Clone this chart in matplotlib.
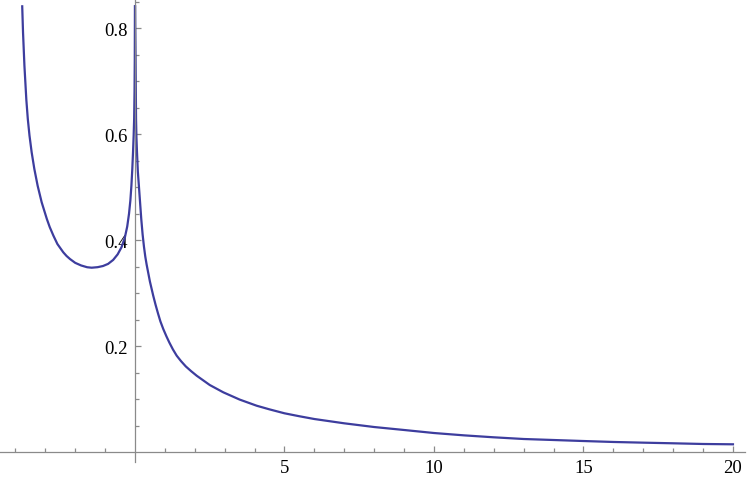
import matplotlib
matplotlib.use("Agg")
import matplotlib.pyplot as plt
from matplotlib.ticker import FixedLocator

# values (left part, x < 0)
x_left = [-3.772, -3.745, -3.698, -3.634, -3.585, -3.528, -3.456, -3.366, -3.256,
          -3.121, -2.948, -2.852, -2.728, -2.595, -2.399, -2.29, -2.174, -2.0,
          -1.8, -1.6, -1.45, -1.25, -1.07, -0.90, -0.73, -0.58, -0.45, -0.34,
          -0.26, -0.20, -0.155, -0.12, -0.09, -0.066, -0.045, -0.028, -0.015,
          -0.007, -0.002]
y_left = [0.8415, 0.7925, 0.7294, 0.6651, 0.6289, 0.5974, 0.5660, 0.5345, 0.5030,
          0.4717, 0.4402, 0.4250, 0.4087, 0.3930, 0.3774, 0.3705, 0.3647, 0.3575,
          0.3525, 0.3492, 0.3483, 0.3493, 0.3515, 0.3555, 0.3630, 0.3735, 0.3870,
          0.4050, 0.4260, 0.4500, 0.4750, 0.5030, 0.5345, 0.566, 0.597, 0.629,
          0.680, 0.742, 0.8415]

# right part, x > 0
x_right = [0.004, 0.012, 0.02, 0.035, 0.048, 0.067, 0.095, 0.13, 0.21, 0.255,
           0.30, 0.345, 0.39, 0.50, 0.61, 0.69, 0.77, 0.85, 0.946, 1.05, 1.15,
           1.27, 1.395, 1.54, 1.70, 1.88, 2.064, 2.5, 2.953, 3.5, 4.07, 4.5, 5,
           5.5, 6, 7, 8, 9, 10, 11, 12, 13, 14, 15, 16, 17, 18, 19, 20]
y_right = [0.8415, 0.79, 0.742, 0.629, 0.595, 0.566, 0.530, 0.503, 0.440, 0.411,
           0.388, 0.369, 0.354, 0.322, 0.2955, 0.278, 0.262, 0.247, 0.2326, 0.219,
           0.207, 0.194, 0.1823, 0.172, 0.162, 0.153, 0.1445, 0.127, 0.1132,
           0.0995, 0.0879, 0.081, 0.0736, 0.068, 0.0628, 0.0547, 0.0477, 0.0421,
           0.0364, 0.0320, 0.0283, 0.0251, 0.0232, 0.0213, 0.0195, 0.0182,
           0.0170, 0.0157, 0.0151]

x_major = [5, 10, 15, 20]
x_minor = [-4, -3, -2, -1, 1, 2, 3, 4, 6, 7, 8, 9, 11, 12, 13, 14, 16, 17, 18, 19]
y_major = [0.2, 0.4, 0.6, 0.8]
y_minor = [0.05, 0.1, 0.15, 0.25, 0.3, 0.35, 0.45, 0.5, 0.55, 0.65, 0.7, 0.75, 0.85]

line_color = "#3d3d9e"
axis_color = "#8a8a8a"

plt.rcParams["font.family"] = ["Liberation Serif", "DejaVu Serif"]

fig = plt.figure(figsize=(7.5, 4.85), dpi=100)
ax = fig.add_axes([0, 0, 1, 1])

ax.plot(x_left, y_left, color=line_color, lw=1.6, solid_joinstyle="round")
ax.plot(x_right, y_right, color=line_color, lw=1.6, solid_joinstyle="round")

ax.set_xlim(-4.515, 20.57)
ax.set_ylim(-0.0598, 0.8553)

# Mathematica-like axes crossing at the origin
for side in ["top", "right"]:
    ax.spines[side].set_visible(False)
ax.spines["left"].set_position(("data", 0))
ax.spines["bottom"].set_position(("data", 0))
ax.spines["left"].set_bounds(-0.018, 0.8553)
ax.spines["bottom"].set_bounds(-4.515, 20.4)
for side in ["left", "bottom"]:
    ax.spines[side].set_color(axis_color)
    ax.spines[side].set_linewidth(0.9)

ax.xaxis.set_major_locator(FixedLocator(x_major))
ax.xaxis.set_minor_locator(FixedLocator(x_minor))
ax.yaxis.set_major_locator(FixedLocator(y_major))
ax.yaxis.set_minor_locator(FixedLocator(y_minor))
ax.set_xticklabels([str(v) for v in x_major])
ax.set_yticklabels([f"{v:.1f}" for v in y_major])

ax.tick_params(which="both", direction="in", color=axis_color, width=0.9,
               labelsize=13.5, labelcolor="black")
ax.tick_params(which="major", length=4)
ax.tick_params(which="minor", length=2.7)
ax.tick_params(axis="x", which="major", pad=5)
ax.tick_params(axis="y", which="major", pad=5)

ax.patch.set_visible(False)
fig.savefig("out.png", dpi=100)
